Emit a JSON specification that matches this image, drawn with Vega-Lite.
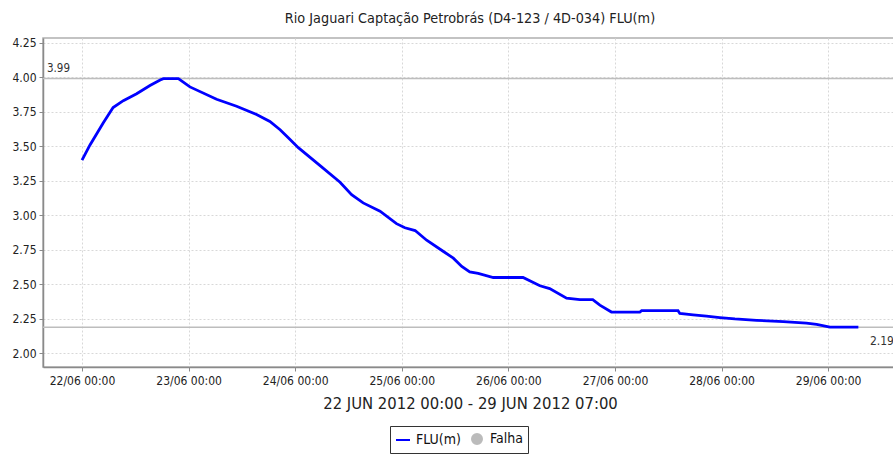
{
  "$schema": "https://vega.github.io/schema/vega-lite/v6.json",
  "autosize": {"type": "none"},
  "padding": {"left": 43, "top": 38, "right": 0, "bottom": 89},
  "width": 854,
  "height": 329,
  "background": "white",
  "title": {
    "text": "Rio Jaguari Captação Petrobrás (D4-123 / 4D-034) FLU(m)",
    "font": "DejaVu Sans Condensed, Liberation Sans Narrow, sans-serif",
    "fontSize": 14.3,
    "fontWeight": "normal",
    "color": "#222",
    "anchor": "middle",
    "offset": 10
  },
  "config": {
    "view": {"stroke": "#b0b0b0", "strokeWidth": 1.5},
    "axis": {
      "labelFont": "DejaVu Sans Condensed, Liberation Sans Narrow, sans-serif",
      "titleFont": "DejaVu Sans Condensed, Liberation Sans Narrow, sans-serif",
      "labelColor": "#222",
      "titleColor": "#222",
      "domainColor": "#8a8a8a",
      "domainWidth": 1.5,
      "tickColor": "#8a8a8a",
      "gridColor": "#d8d8d8",
      "gridDash": [2, 2],
      "gridWidth": 1
    }
  },
  "datasets": {
    "flu": [
      {"t": "2012-06-22T00:00", "v": 3.40},
      {"t": "2012-06-22T01:48", "v": 3.51},
      {"t": "2012-06-22T04:48", "v": 3.67},
      {"t": "2012-06-22T07:00", "v": 3.78},
      {"t": "2012-06-22T09:18", "v": 3.83},
      {"t": "2012-06-22T12:18", "v": 3.88},
      {"t": "2012-06-22T15:18", "v": 3.94},
      {"t": "2012-06-22T17:36", "v": 3.98},
      {"t": "2012-06-22T18:18", "v": 3.99},
      {"t": "2012-06-22T21:42", "v": 3.99},
      {"t": "2012-06-23T00:18", "v": 3.93},
      {"t": "2012-06-23T06:18", "v": 3.84},
      {"t": "2012-06-23T10:48", "v": 3.79},
      {"t": "2012-06-23T15:18", "v": 3.73},
      {"t": "2012-06-23T18:18", "v": 3.68},
      {"t": "2012-06-23T20:36", "v": 3.62},
      {"t": "2012-06-23T22:30", "v": 3.56},
      {"t": "2012-06-24T00:42", "v": 3.49},
      {"t": "2012-06-24T05:36", "v": 3.36},
      {"t": "2012-06-24T10:06", "v": 3.24},
      {"t": "2012-06-24T12:42", "v": 3.15},
      {"t": "2012-06-24T15:18", "v": 3.09},
      {"t": "2012-06-24T19:06", "v": 3.03},
      {"t": "2012-06-24T22:48", "v": 2.94},
      {"t": "2012-06-25T00:42", "v": 2.91},
      {"t": "2012-06-25T03:00", "v": 2.89},
      {"t": "2012-06-25T05:36", "v": 2.82},
      {"t": "2012-06-25T09:18", "v": 2.74},
      {"t": "2012-06-25T11:36", "v": 2.69},
      {"t": "2012-06-25T13:30", "v": 2.63},
      {"t": "2012-06-25T15:18", "v": 2.59},
      {"t": "2012-06-25T17:12", "v": 2.58},
      {"t": "2012-06-25T20:36", "v": 2.55},
      {"t": "2012-06-26T03:18", "v": 2.55},
      {"t": "2012-06-26T07:06", "v": 2.49},
      {"t": "2012-06-26T09:18", "v": 2.47},
      {"t": "2012-06-26T13:06", "v": 2.40},
      {"t": "2012-06-26T16:06", "v": 2.39},
      {"t": "2012-06-26T19:00", "v": 2.39},
      {"t": "2012-06-26T20:36", "v": 2.35},
      {"t": "2012-06-26T23:12", "v": 2.30},
      {"t": "2012-06-27T05:36", "v": 2.30},
      {"t": "2012-06-27T06:00", "v": 2.31},
      {"t": "2012-06-27T14:12", "v": 2.31},
      {"t": "2012-06-27T14:36", "v": 2.29},
      {"t": "2012-06-27T17:36", "v": 2.28},
      {"t": "2012-06-27T20:36", "v": 2.27},
      {"t": "2012-06-27T23:36", "v": 2.26},
      {"t": "2012-06-28T03:00", "v": 2.25},
      {"t": "2012-06-28T07:54", "v": 2.24},
      {"t": "2012-06-28T13:54", "v": 2.23},
      {"t": "2012-06-28T19:06", "v": 2.22},
      {"t": "2012-06-28T21:24", "v": 2.21},
      {"t": "2012-06-29T00:24", "v": 2.19},
      {"t": "2012-06-29T06:48", "v": 2.19}
    ],
    "marks": [
      {"v": 3.99, "label": "3.99", "t": "2012-06-21T15:13", "pos": "left"},
      {"v": 2.19, "label": "2.19", "t": "2012-06-29T09:24", "pos": "right"}
    ]
  },
  "encoding": {
    "x": {
      "field": "t",
      "type": "temporal",
      "scale": {
        "domain": [
          {"year": 2012, "month": 6, "date": 21, "hours": 15, "minutes": 13},
          {"year": 2012, "month": 6, "date": 29, "hours": 15, "minutes": 30}
        ],
        "nice": false
      },
      "axis": {
        "values": [
          {"year": 2012, "month": 6, "date": 22},
          {"year": 2012, "month": 6, "date": 23},
          {"year": 2012, "month": 6, "date": 24},
          {"year": 2012, "month": 6, "date": 25},
          {"year": 2012, "month": 6, "date": 26},
          {"year": 2012, "month": 6, "date": 27},
          {"year": 2012, "month": 6, "date": 28},
          {"year": 2012, "month": 6, "date": 29}
        ],
        "labelExpr": "timeFormat(datum.value, '%d/%m %H:%M')",
        "labelFontSize": 12,
        "labelPadding": 4,
        "tickSize": 4,
        "title": "22 JUN 2012 00:00 - 29 JUN 2012 07:00",
        "titleFontSize": 16.5,
        "titleFontWeight": "normal",
        "titlePadding": 9,
        "labelFlush": false
      }
    },
    "y": {
      "field": "v",
      "type": "quantitative",
      "scale": {"domain": [1.902, 4.284], "nice": false, "zero": false},
      "axis": {
        "values": [2, 2.25, 2.5, 2.75, 3, 3.25, 3.5, 3.75, 4, 4.25],
        "format": ".2f",
        "labelFontSize": 12,
        "labelPadding": 3,
        "tickSize": 4,
        "title": null
      }
    }
  },
  "layer": [
    {
      "data": {"name": "marks"},
      "mark": {"type": "rule", "color": "#bdbdbd", "strokeWidth": 1.5},
      "encoding": {"x": null}
    },
    {
      "data": {"name": "marks"},
      "transform": [{"filter": "datum.pos === 'left'"}],
      "mark": {"type": "text", "align": "left", "baseline": "alphabetic", "dx": 4, "dy": -7, "fontSize": 11.5, "font": "DejaVu Sans Condensed, Liberation Sans Narrow, sans-serif", "color": "#333"},
      "encoding": {"text": {"field": "label"}}
    },
    {
      "data": {"name": "marks"},
      "transform": [{"filter": "datum.pos === 'right'"}],
      "mark": {"type": "text", "align": "left", "baseline": "alphabetic", "dx": 0, "dy": 18, "fontSize": 12, "font": "DejaVu Sans Condensed, Liberation Sans Narrow, sans-serif", "color": "#333"},
      "encoding": {"text": {"field": "label"}}
    },
    {
      "data": {"name": "flu"},
      "mark": {"type": "line", "strokeWidth": 2.8, "interpolate": "linear"},
      "encoding": {
        "color": {
          "datum": "FLU(m)",
          "type": "nominal",
          "scale": {"domain": ["FLU(m)", "Falha"], "range": ["#0000ff", "#bbbbbb"]},
          "legend": {
            "title": null,
            "orient": "none",
            "legendX": 347,
            "legendY": 388,
            "direction": "horizontal",
            "columns": 2,
            "strokeColor": "#333",
            "padding": 5,
            "labelFont": "DejaVu Sans Condensed, Liberation Sans Narrow, sans-serif",
            "labelFontSize": 14,
            "labelColor": "#111",
            "labelOffset": 5,
            "columnPadding": 7,
            "symbolType": "stroke",
            "symbolSize": 196,
            "symbolStrokeWidth": 2,
            "encode": {
              "symbols": {
                "update": {
                  "shape": {"signal": "datum.value === 'Falha' ? 'circle' : 'stroke'"},
                  "size": {"signal": "datum.value === 'Falha' ? 100 : 196"},
                  "fill": {"signal": "datum.value === 'Falha' ? '#bbbbbb' : 'transparent'"},
                  "stroke": {"signal": "datum.value === 'Falha' ? 'transparent' : '#0000ff'"}
                }
              }
            }
          }
        }
      }
    }
  ]
}
